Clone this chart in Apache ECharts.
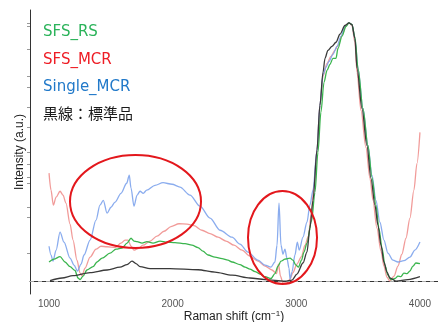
<!DOCTYPE html>
<html>
<head>
<meta charset="utf-8">
<title>Raman spectra</title>
<script src="https://cdn.jsdelivr.net/npm/echarts@6/dist/echarts.min.js"></script>
<style>
  html, body { margin: 0; padding: 0; background: #fff; }
  #chart { width: 438px; height: 322px; }
</style>
</head>
<body>
<div id="chart"></div>
<script>
// x: Raman shift (cm-1), y: normalized intensity
var blackX = [1008,1105,1194,1332,1469,1574,1631,1671,1703,1736,1817,1978,2205,2342,2480,2625,2747,2908,2965,3005,3054,3086,3110,3135,3167,3191,3216,3232,3256,3288,3321,3353,3393,3426,3450,3474,3491,3531,3571,3604,3636,3660,3685,3709,3733,3757,3806,3903,4000];
var blackY = [0.002,0.012,0.021,0.033,0.043,0.054,0.064,0.077,0.068,0.056,0.048,0.048,0.044,0.035,0.023,0.012,0.006,0,0.004,0.027,0.070,0.112,0.205,0.313,0.507,0.681,0.809,0.863,0.894,0.909,0.925,0.956,0.990,1.0,0.994,0.940,0.824,0.669,0.526,0.398,0.294,0.217,0.139,0.073,0.035,0.012,0,0.006,0.017];

var greenX = [1000,1040,1089,1129,1170,1210,1234,1251,1275,1307,1356,1388,1429,1493,1542,1590,1631,1663,1687,1712,1752,1792,1841,1898,1954,2019,2100,2156,2205,2245,2286,2342,2399,2447,2480,2544,2585,2625,2666,2706,2747,2795,2827,2852,2876,2908,2949,2973,2997,3017,3042,3062,3086,3123,3151,3175,3199,3224,3248,3272,3296,3321,3337,3369,3402,3426,3450,3474,3499,3539,3579,3612,3644,3668,3693,3717,3741,3765,3798,3822,3846,3870,3895,3919,3943,3967,4000];
var greenY = [0.074,0.085,0.095,0.074,0.056,0.041,0.012,0.006,0.019,0.043,0.056,0.074,0.089,0.108,0.124,0.128,0.147,0.166,0.155,0.153,0.147,0.153,0.147,0.155,0.151,0.149,0.145,0.139,0.130,0.116,0.101,0.093,0.087,0.081,0.074,0.064,0.054,0.046,0.037,0.027,0.017,0.010,0.029,0.058,0.077,0.085,0.089,0.081,0.062,0.054,0.081,0.112,0.147,0.232,0.344,0.499,0.654,0.770,0.816,0.839,0.863,0.863,0.901,0.948,0.986,1.0,0.994,0.944,0.824,0.669,0.526,0.402,0.294,0.205,0.128,0.062,0.023,0.006,0.010,0.019,0.017,0.031,0.029,0.039,0.058,0.070,0.068];

var redX = [1000,1016,1035,1057,1089,1113,1137,1170,1194,1226,1251,1267,1291,1332,1380,1420,1469,1534,1582,1615,1639,1663,1687,1720,1760,1817,1873,1930,1986,2051,2116,2172,2237,2302,2367,2431,2496,2561,2625,2690,2747,2803,2840,2856,2872,2892,2920,2949,2973,3005,3042,3070,3098,3119,3143,3167,3191,3216,3248,3280,3313,3337,3369,3402,3426,3450,3474,3491,3523,3563,3596,3620,3652,3685,3709,3733,3757,3790,3822,3854,3887,3919,3951,3976,4000];
var redY = [0.418,0.352,0.294,0.325,0.348,0.333,0.302,0.221,0.159,0.081,0.031,0.021,0.050,0.093,0.124,0.135,0.133,0.130,0.147,0.159,0.159,0.135,0.120,0.126,0.139,0.155,0.174,0.193,0.211,0.222,0.221,0.215,0.197,0.184,0.170,0.155,0.139,0.120,0.097,0.077,0.058,0.043,0.029,0.066,0.019,-0.008,-0.010,0.008,0.033,0.066,0.095,0.139,0.174,0.255,0.371,0.507,0.681,0.793,0.843,0.870,0.894,0.913,0.952,0.990,1.0,0.990,0.925,0.809,0.661,0.518,0.398,0.313,0.205,0.116,0.058,0.015,0,0.019,0.058,0.104,0.166,0.244,0.352,0.456,0.576];

var blueX = [1000,1016,1032,1057,1089,1121,1170,1202,1230,1259,1283,1332,1380,1412,1439,1469,1501,1534,1582,1628,1649,1663,1687,1712,1736,1762,1790,1857,1922,1995,2059,2140,2221,2302,2383,2480,2544,2609,2690,2747,2795,2827,2844,2860,2876,2892,2908,2924,2941,2949,2965,2989,3008,3024,3054,3086,3110,3135,3167,3191,3216,3240,3264,3296,3329,3361,3393,3426,3450,3474,3499,3539,3579,3612,3644,3676,3709,3741,3782,3822,3870,3919,3959,4000];
var blueY = [0.135,0.101,0.077,0.120,0.190,0.151,0.089,0.062,0.039,0.066,0.101,0.159,0.236,0.294,0.313,0.263,0.286,0.306,0.340,0.379,0.410,0.360,0.290,0.333,0.348,0.340,0.352,0.371,0.381,0.375,0.364,0.333,0.290,0.244,0.197,0.170,0.143,0.112,0.081,0.062,0.054,0.074,0.139,0.302,0.139,0.104,0.124,0.089,0.050,0.008,0.035,0.101,0.151,0.120,0.170,0.228,0.294,0.352,0.507,0.681,0.801,0.828,0.851,0.878,0.909,0.948,0.986,1.0,0.994,0.940,0.824,0.669,0.526,0.410,0.313,0.228,0.159,0.108,0.081,0.074,0.079,0.093,0.120,0.151];

var xTickLabels = [1000, 2000, 3000, 4000];
var yTickMarks = [0.108, 0.248, 0.286, 0.379, 0.402, 0.453, 0.499, 0.596, 0.673, 0.750, 0.793, 0.897, 0.986, 0.998];

var legendNames = ['SFS_RS', 'SFS_MCR', 'Single_MCR', '黒線：標準品'];
var legendColors = ['#2bb35a', '#ee1d25', '#2179c9', '#1a1a1a'];

function zip(xs, ys) {
  var out = [];
  for (var i = 0; i < xs.length; i++) out.push([xs[i], ys[i]]);
  return out;
}

var chart = echarts.init(document.getElementById('chart'), null, { renderer: 'canvas' });

function lineSeries(name, data, color, z) {
  return {
    name: name,
    type: 'line',
    data: data,
    symbol: 'none',
    smooth: 0.3,
    smoothMonotone: 'x',
    z: z,
    lineStyle: { color: color, width: 1.3 }
  };
}

var legendGraphics = legendNames.map(function (n, i) {
  return {
    type: 'text',
    left: 43,
    top: 25 + i * 27.5,
    z: 100,
    style: {
      text: n,
      fill: legendColors[i],
      font: '15px "DejaVu Sans", "Noto Sans CJK JP", sans-serif'
    }
  };
});

var option = {
  animation: false,
  grid: { left: 30, right: 0, top: 10, bottom: 28, containLabel: false, outerBoundsMode: 'none' },
  xAxis: {
    type: 'value',
    min: 846,
    max: 4146,
    name: '{n|Raman shift (cm}{s|−1}{n|)}',
    nameLocation: 'middle',
    nameGap: 16,
    nameMoveOverlap: false,
    nameTextStyle: {
      rich: {
        n: { fontSize: 12, color: '#222', fontFamily: 'Liberation Sans' },
        s: { fontSize: 8, color: '#222', fontFamily: 'Liberation Sans', verticalAlign: 'top', padding: [0, 0, 6, 0] }
      }
    },
    axisLine: { lineStyle: { color: '#333', width: 1 } },
    axisTick: { show: false },
    axisLabel: {
      customValues: xTickLabels,
      formatter: function (v) { return String(v); },
      color: '#555', fontSize: 10, fontFamily: 'Liberation Sans', margin: 5
    },
    splitLine: { show: false }
  },
  yAxis: {
    type: 'value',
    min: -0.05,
    max: 1.05,
    name: 'Intensity (a.u.)',
    nameLocation: 'middle',
    nameGap: 4,
    nameMoveOverlap: false,
    nameTextStyle: { fontSize: 12, color: '#222', fontFamily: 'Liberation Sans' },
    axisLine: { show: true, lineStyle: { color: '#333', width: 1 } },
    axisTick: { show: true, customValues: yTickMarks, length: 3, lineStyle: { color: '#999' } },
    axisLabel: { show: false },
    splitLine: { show: false }
  },
  series: [
    lineSeries('SFS_MCR', zip(redX, redY), 'rgba(238,130,128,0.8)', 2),
    lineSeries('Single_MCR', zip(blueX, blueY), 'rgba(125,163,236,0.9)', 3),
    lineSeries('SFS_RS', zip(greenX, greenY), '#3bb54e', 4),
    Object.assign(lineSeries('黒線：標準品', zip(blackX, blackY), '#3a3a3a', 5), {
      markLine: {
        silent: true,
        symbol: 'none',
        label: { show: false },
        lineStyle: { color: '#aaa', type: [4, 4], width: 1 },
        data: [{ yAxis: 0 }]
      }
    })
  ],
  graphic: legendGraphics.concat([
    {
      type: 'ellipse', z: 100,
      shape: { cx: 135.5, cy: 201.5, rx: 65.5, ry: 46.5 },
      style: { fill: 'none', stroke: '#e3171c', lineWidth: 2 }
    },
    {
      type: 'ellipse', z: 100,
      shape: { cx: 282.5, cy: 237.5, rx: 34.5, ry: 46.5 },
      style: { fill: 'none', stroke: '#e3171c', lineWidth: 2 }
    }
  ])
};

chart.setOption(option);
</script>
</body>
</html>
